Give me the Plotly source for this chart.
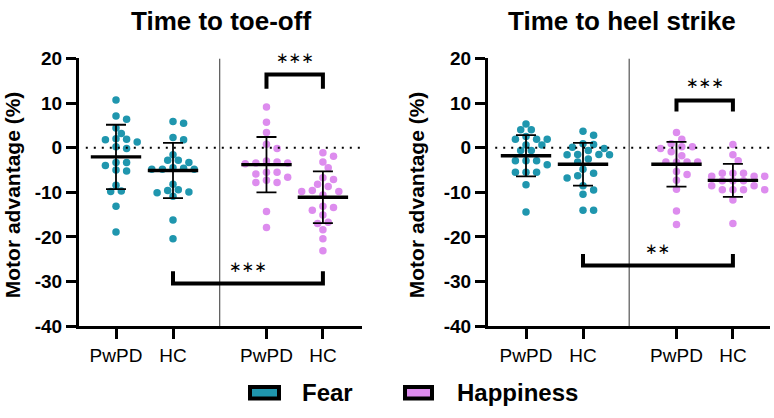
import plotly.graph_objects as go

# ---------------- data ----------------
groups = ["PwPD", "HC", "PwPD", "HC"]
emotions = ["Fear", "Fear", "Happiness", "Happiness"]
positions = [0, 1, 2.64, 3.63]

toe_fear_pwpd = [10.7, 7.1, 6.4, 4.4, 3.2, 2.0, 1.9, 1.8, 1.3, 0.2, -0.2, -3.3, -3.3, -4.0,
                 -5.0, -5.2, -8.4, -9.7, -9.8, -13.1, -18.9]
toe_fear_hc = [5.9, 5.5, 2.3, 1.8, -1.6, -2.8, -2.8, -3.3, -4.5, -4.6, -4.8, -4.8, -4.8,
               -8.2, -9.4, -9.6, -9.9, -10.1, -10.9, -16.2, -20.4]
toe_hap_pwpd = [9.1, 5.7, 3.4, 0.8, -0.2, -3.0, -3.2, -3.4, -3.6, -3.4, -5.5, -5.5, -5.9,
                -6.6, -7.3, -7.8, -7.8, -14.3, -17.9]
toe_hap_hc = [-1.1, -1.9, -3.2, -4.5, -6.7, -7.1, -8.2, -8.7, -9.6, -9.8, -9.8, -10.6, -13.1,
              -13.4, -14.0, -15.1, -16.7, -17.0, -18.4, -20.4, -23.1]

heel_fear_pwpd = [5.3, 4.0, 4.0, 2.5, 1.9, 1.9, 1.9, 0.6, 0.6, -0.6, -0.6, -2.9, -2.9, -2.9,
                  -3.8, -5.5, -5.5, -5.5, -8.3, -14.4]
heel_fear_hc = [3.7, 2.8, 0.9, 0.7, 0.1, -0.2, -0.6, -1.5, -1.5, -1.6, -1.6, -2.5, -3.2, -4.8,
                -5.7, -6.3, -6.8, -8.5, -9.5, -10.4, -14.0, -14.0]
heel_hap_pwpd = [3.4, 1.9, 0.9, 0.2, 0.2, -0.2, -0.9, -1.8, -3.2, -3.2, -3.2, -3.2, -5.3, -6.0,
                 -7.3, -9.3, -14.2, -17.2]
heel_hap_hc = [0.7, -1.6, -2.9, -5.7, -5.7, -5.7, -6.4, -6.4, -6.4, -7.4, -7.4, -7.4, -8.5,
               -8.5, -9.4, -9.4, -9.4, -9.4, -11.7, -17.0]

toe_means = [-2.06, -5.1, -3.8, -11.1]
toe_sds = [7.2, 6.2, 6.2, 5.8]
heel_means = [-1.8, -3.7, -3.7, -7.3]
heel_sds = [4.6, 4.8, 5.0, 3.7]

panel_titles = ["Time to toe-off", "Time to heel strike"]
y_title = "Motor advantage (%)"
y_ticks = [-40, -30, -20, -10, 0, 10, 20]
Y_MIN, Y_MAX = -40, 20

# significance: (from group, to group, label, bar level, leg end, label level)
toe_sig = [(2, 3, "∗∗∗", 16.4, 13.2, 20.2), (1, 3, "∗∗∗", -30.4, -27.7, -26.7)]
heel_sig = [(2, 3, "∗∗∗", 10.6, 8.1, 14.6), (1, 3, "∗∗", -26.4, -23.8, -22.6)]

# ---------------- style ----------------
TEAL = "#1F96AE"
PURP = "#DD8CEE"
colors = [TEAL, TEAL, PURP, PURP]
FONT = "Arial, Liberation Sans, sans-serif"

PX_X = 57.0
PX_Y = 4.7
YDOM = [85 / 418, 367 / 418]


def swarm(vals, step=5.3, dmin=7.6):
    order = sorted(range(len(vals)), key=lambda i: -vals[i])
    placed = []
    offs = [0.0] * len(vals)
    cands = [0.0]
    for j in range(1, 12):
        cands += [j * step, -j * step]
    for i in order:
        y = vals[i] * PX_Y
        chosen = cands[-1]
        for c in cands:
            if all(((c - px) ** 2 + (y - py) ** 2) ** 0.5 >= dmin for px, py in placed):
                chosen = c
                break
        placed.append((chosen, y))
        offs[i] = chosen / PX_X
    return offs


def paper_y(v):
    return YDOM[0] + (v - Y_MIN) / (Y_MAX - Y_MIN) * (YDOM[1] - YDOM[0])


fig = go.Figure()

panels = [
    dict(data=[toe_fear_pwpd, toe_fear_hc, toe_hap_pwpd, toe_hap_hc], means=toe_means,
         sds=toe_sds, sig=toe_sig, xa="x", ya="y", dom=[79 / 774, 362 / 774],
         rng=[(79 - 116) / PX_X, (362 - 116) / PX_X], title=panel_titles[0],
         title_x=221, ytitle_x=12, vline=1.82, dot_start=-0.53),
    dict(data=[heel_fear_pwpd, heel_fear_hc, heel_hap_pwpd, heel_hap_hc], means=heel_means,
         sds=heel_sds, sig=heel_sig, xa="x2", ya="y2", dom=[488 / 774, 770 / 774],
         rng=[(488 - 526) / PX_X, (770 - 526) / PX_X], title=panel_titles[1],
         title_x=622, ytitle_x=416, vline=1.81, dot_start=-0.54),
]

shapes = []
annotations = []

for pi, p in enumerate(panels):
    for gi, vals in enumerate(p["data"]):
        offs = swarm(vals)
        fig.add_trace(go.Scatter(
            x=[positions[gi] + o for o in offs], y=vals, mode="markers",
            marker=dict(size=7.5, color=colors[gi], line=dict(width=0)),
            xaxis=p["xa"], yaxis=p["ya"], showlegend=False, hoverinfo="y"))
    for gi in range(4):
        fig.add_trace(go.Scatter(
            x=[positions[gi]], y=[p["means"][gi]], mode="markers",
            marker=dict(symbol="line-ew", size=36, line=dict(width=3.3, color="black")),
            error_y=dict(type="data", array=[p["sds"][gi]], thickness=1.8, width=10,
                         color="black"),
            xaxis=p["xa"], yaxis=p["ya"], showlegend=False))

    xr = p["xa"]
    yr = p["ya"]
    xd0, xd1 = p["dom"]
    r0, r1 = p["rng"]
    # vertical divider
    shapes.append(dict(type="line", xref=xr, yref=yr, x0=p["vline"], x1=p["vline"],
                       y0=Y_MIN, y1=Y_MAX, line=dict(color="#333333", width=1)))
    # dotted zero line
    shapes.append(dict(type="line", xref=xr, yref=yr, x0=p["dot_start"], x1=r1,
                       y0=0, y1=0, line=dict(color="black", width=2, dash="2px,6px")))
    # significance brackets
    for (a, b, lab, yh, yl, ys) in p["sig"]:
        xa_, xb_ = positions[a], positions[b]
        shapes.append(dict(type="path", xref=xr, yref=yr,
                           path=f"M {xa_},{yl} L {xa_},{yh} L {xb_},{yh} L {xb_},{yl}",
                           line=dict(color="black", width=4)))
        xm = (xa_ + xb_) / 2
        annotations.append(dict(xref="paper", yref="paper",
                                x=xd0 + (xm - r0) / (r1 - r0) * (xd1 - xd0),
                                y=paper_y(ys), text=lab,
                                showarrow=False, font=dict(family="DejaVu Sans", size=15,
                                                           color="black"),
                                xanchor="center", yanchor="middle"))
    # panel title
    annotations.append(dict(xref="paper", yref="paper", x=p["title_x"] / 774,
                            y=1 - 12 / 418, text=f"<b>{p['title']}</b>", showarrow=False,
                            font=dict(family=FONT, size=26, color="black"),
                            xanchor="center", yanchor="middle"))
    # y title
    annotations.append(dict(xref="paper", yref="paper", x=p["ytitle_x"] / 774,
                            y=1 - 195 / 418, text=f"<b>{y_title}</b>", showarrow=False,
                            textangle=-90, font=dict(family=FONT, size=21, color="black"),
                            xanchor="center", yanchor="middle"))

# legend (drawn manually)
leg = [("Fear", TEAL, 250, 279, 300), ("Happiness", PURP, 405, 432, 455)]
for name, col, x0, x1, tx in leg:
    shapes.append(dict(type="rect", xref="paper", yref="paper", x0=x0 / 774, x1=x1 / 774,
                       y0=1 - 409 / 418, y1=1 - 397 / 418, fillcolor=col,
                       line=dict(color="black", width=4)))
    annotations.append(dict(xref="paper", yref="paper", x=tx / 774, y=1 - 403 / 418,
                            text=f"<b>{name}</b>", showarrow=False,
                            font=dict(family=FONT, size=24, color="black"),
                            xanchor="left", yanchor="middle"))

axis_common = dict(showline=True, linecolor="black", linewidth=3, ticks="outside",
                   ticklen=10, tickwidth=3, tickcolor="black", showgrid=False,
                   zeroline=False, mirror=False)

layout = dict(
    width=774, height=418, margin=dict(l=0, r=0, t=0, b=0),
    paper_bgcolor="white", plot_bgcolor="white", showlegend=False,
    shapes=shapes, annotations=annotations,
)
for pi, p in enumerate(panels):
    suffix = "" if pi == 0 else "2"
    layout["xaxis" + suffix] = dict(
        axis_common, domain=p["dom"], range=p["rng"], tickvals=positions, ticktext=groups,
        tickfont=dict(family=FONT, size=19, color="black"),
        anchor="y" + suffix)
    layout["yaxis" + suffix] = dict(
        axis_common, domain=YDOM, range=[Y_MIN, Y_MAX], tickvals=y_ticks,
        ticktext=[str(t) for t in y_ticks],
        tickfont=dict(family=FONT, size=19, color="black", weight="bold"),
        anchor="x" + suffix)

fig.update_layout(**layout)
fig.write_html("out.html")
